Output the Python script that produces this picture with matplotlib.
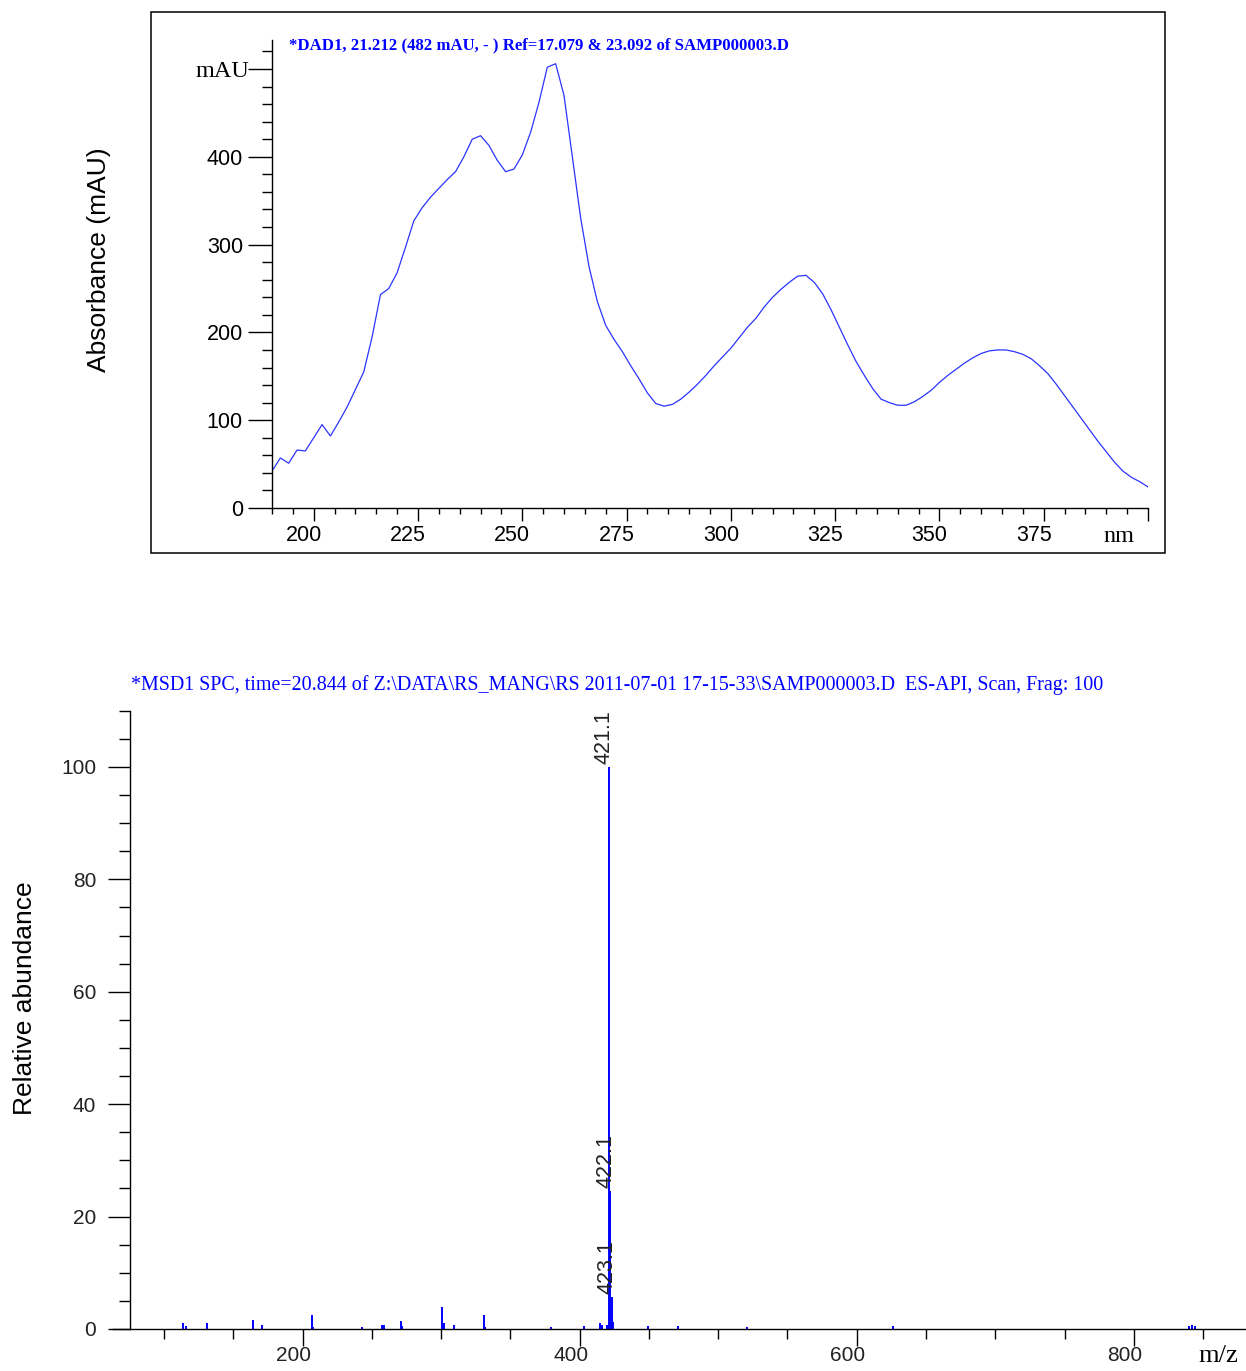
import matplotlib
matplotlib.use("Agg")
import matplotlib.pyplot as plt
from matplotlib.patches import Rectangle
from matplotlib.ticker import FixedLocator
from matplotlib.transforms import ScaledTranslation

# ---------------- UV (DAD) spectrum ----------------
wavelength_nm = list(range(190, 402, 2))
absorbance_mau = [
    42, 57, 51, 66, 65,
    80, 95, 82, 98, 115, 135, 155, 195, 243, 250,
    268, 297, 327, 342, 354, 364, 374, 383, 400, 420,
    424, 413, 396, 383, 386, 402, 428, 462, 502, 506,
    470, 400, 330, 275, 235, 208, 192, 178, 162, 147,
    131, 119, 116, 118, 124, 132, 141, 151, 162, 172,
    182, 194, 206, 216, 229, 240, 249, 257, 264, 265,
    257, 244, 226, 206, 186, 167, 151, 136, 124, 120,
    117, 117, 121, 127, 134, 143, 151, 158, 165, 171,
    176, 179, 180, 180, 178, 175, 170, 162, 153, 141,
    128, 115, 102, 89, 76, 64, 52, 42, 35, 30,
    24,
]
uv_xticks = [200, 225, 250, 275, 300, 325, 350, 375]
uv_yticks = [0, 100, 200, 300, 400]
uv_title = "*DAD1, 21.212 (482 mAU, - ) Ref=17.079 & 23.092 of SAMP000003.D"

# ---------------- Mass spectrum ----------------
mz_values = [113.9, 115.9, 130.9, 163.9, 170.9, 206.9, 207.9, 242.9, 257.0,
             258.9, 271.0, 272.0, 300.9, 301.9, 309.0, 330.9, 331.9, 379.0,
             402.9, 415.0, 416.0, 420.1, 421.1, 422.1, 423.1, 424.1, 449.0,
             471.0, 521.0, 626.0, 840.0, 842.0, 844.0]
rel_abundance = [1.1, 0.5, 1.0, 1.6, 0.8, 2.5, 0.4, 0.4, 0.7,
                 0.7, 1.5, 0.6, 3.9, 1.0, 0.8, 2.5, 0.4, 0.4,
                 0.6, 1.1, 0.7, 0.8, 100.0, 24.5, 5.7, 1.2, 0.5,
                 0.6, 0.3, 0.6, 0.6, 0.7, 0.5]
labelled_peaks = [421.1, 422.1, 423.1]
ms_xticks = [200, 400, 600, 800]
ms_yticks = [0, 20, 40, 60, 80, 100]
ms_title = ("*MSD1 SPC, time=20.844 of Z:\\DATA\\RS_MANG\\RS 2011-07-01 "
            "17-15-33\\SAMP000003.D  ES-API, Scan, Frag: 100")

SANS = "Liberation Sans"
SERIF = "Liberation Serif"
BLUE = "#0000FF"

W, H = 1246, 1371
DPI = 100
fig = plt.figure(figsize=(W / DPI, H / DPI), dpi=DPI)


def px_rect(left, top, right, bottom):
    return [left / W, 1 - bottom / H, (right - left) / W, (bottom - top) / H]


def shift(dx, dy):
    return ScaledTranslation(dx / DPI, -dy / DPI, fig.dpi_scale_trans)


def fit_width(txt, target_px):
    r = fig.canvas.get_renderer()
    w = txt.get_window_extent(renderer=r).width
    txt.set_fontsize(txt.get_fontsize() * target_px / w)


# frame around the UV panel
fig.patches.append(Rectangle((151 / W, 1 - 553 / H), (1165 - 151) / W, (553 - 12) / H,
                             transform=fig.transFigure, fill=False,
                             edgecolor="black", linewidth=1.1))

# ---------- top panel ----------
ax1 = fig.add_axes(px_rect(272, 40, 1148, 508))
ax1.plot(wavelength_nm, absorbance_mau, color="#2a35ff", linewidth=0.9)
ax1.set_xlim(190, 400)
ax1.set_ylim(0, 533)
for s in ("top", "right"):
    ax1.spines[s].set_visible(False)
for s in ("left", "bottom"):
    ax1.spines[s].set_linewidth(1.0)
ax1.xaxis.set_major_locator(FixedLocator(uv_xticks + [400]))
ax1.xaxis.set_minor_locator(FixedLocator(list(range(190, 401, 5))))
ax1.yaxis.set_major_locator(FixedLocator(uv_yticks + [500]))
ax1.yaxis.set_minor_locator(FixedLocator(list(range(0, 521, 20))))
ax1.tick_params(axis="x", which="major", length=9, width=1.0, direction="out",
                labelbottom=False)
ax1.tick_params(axis="x", which="minor", length=4.5, width=1.0, direction="out")
ax1.tick_params(axis="y", which="major", length=17, width=1.0, direction="out",
                labelleft=False)
ax1.tick_params(axis="y", which="minor", length=7, width=1.0, direction="out")

for v in uv_xticks:
    ax1.text(v, 0, str(v), transform=ax1.get_xaxis_transform() + shift(-10, 17),
             ha="center", va="top", fontsize=15.5, family=SANS)
for v in uv_yticks:
    ax1.text(190, v, str(v), transform=ax1.transData + shift(-29, 0),
             ha="right", va="center_baseline", fontsize=15.5, family=SANS)
ax1.text(190, 500, "mAU", transform=ax1.transData + shift(-23, 0),
         ha="right", va="center_baseline", fontsize=17.5, family=SERIF)
ax1.text(400, 0, "nm", transform=ax1.get_xaxis_transform() + shift(-29, 34),
         ha="center", va="baseline", fontsize=17.5, family=SERIF)
t1 = fig.text(289 / W, 1 - 45 / H, uv_title, ha="left", va="center",
              fontsize=11.5, family=SERIF, weight="bold", color=BLUE)
fit_width(t1, 498)
fig.text(99 / W, 1 - 260 / H, "Absorbance (mAU)", rotation=90, ha="center",
         va="center", fontsize=19, family=SANS)

# ---------- bottom panel ----------
ax2 = fig.add_axes(px_rect(113.3, 710.7, 1246, 1329))
ax2.vlines(mz_values, 0, rel_abundance, color=BLUE, linewidth=1.4)
ax2.set_xlim(63.4, 881)
ax2.set_ylim(0, 110)
for s in ("top", "right"):
    ax2.spines[s].set_visible(False)
for s in ("left", "bottom"):
    ax2.spines[s].set_linewidth(1.0)
ax2.spines["left"].set_position(("data", 75.5))
ax2.xaxis.set_major_locator(FixedLocator(ms_xticks))
ax2.xaxis.set_minor_locator(FixedLocator(list(range(100, 851, 50))))
ax2.yaxis.set_major_locator(FixedLocator(ms_yticks))
ax2.yaxis.set_minor_locator(FixedLocator(list(range(0, 111, 5))))
ax2.tick_params(axis="x", which="major", length=12, width=1.0, direction="out",
                labelbottom=False)
ax2.tick_params(axis="x", which="minor", length=7, width=1.0, direction="out")
ax2.tick_params(axis="y", which="major", length=16, width=1.0, direction="out",
                labelleft=False)
ax2.tick_params(axis="y", which="minor", length=8, width=1.0, direction="out")

for v in ms_xticks:
    ax2.text(v, 0, str(v), transform=ax2.get_xaxis_transform() + shift(-9, 17),
             ha="center", va="top", fontsize=15, family=SANS, color="#222222")
for v in ms_yticks:
    ax2.text(75.5, v, str(v), transform=ax2.transData + shift(-34, 0),
             ha="right", va="center_baseline", fontsize=15, family=SANS,
             color="#222222")
for mz in labelled_peaks:
    h = rel_abundance[mz_values.index(mz)]
    ax2.text(mz, h, f"{mz:.1f}", transform=ax2.transData + shift(6, -3),
             rotation=90, ha="right", va="bottom", fontsize=15.5, family=SANS,
             color="#222222")
ax2.text(881, 0, "m/z", transform=ax2.get_xaxis_transform() + shift(-28, 33),
         ha="center", va="baseline", fontsize=19, family=SERIF)
t2 = fig.text(131 / W, 1 - 685 / H, ms_title, ha="left", va="center",
              fontsize=13.5, family=SERIF, color=BLUE)
fit_width(t2, 972)
fig.text(25 / W, 1 - 998 / H, "Relative abundance", rotation=90, ha="center",
         va="center", fontsize=19, family=SANS)

fig.savefig("out.png", dpi=DPI)
